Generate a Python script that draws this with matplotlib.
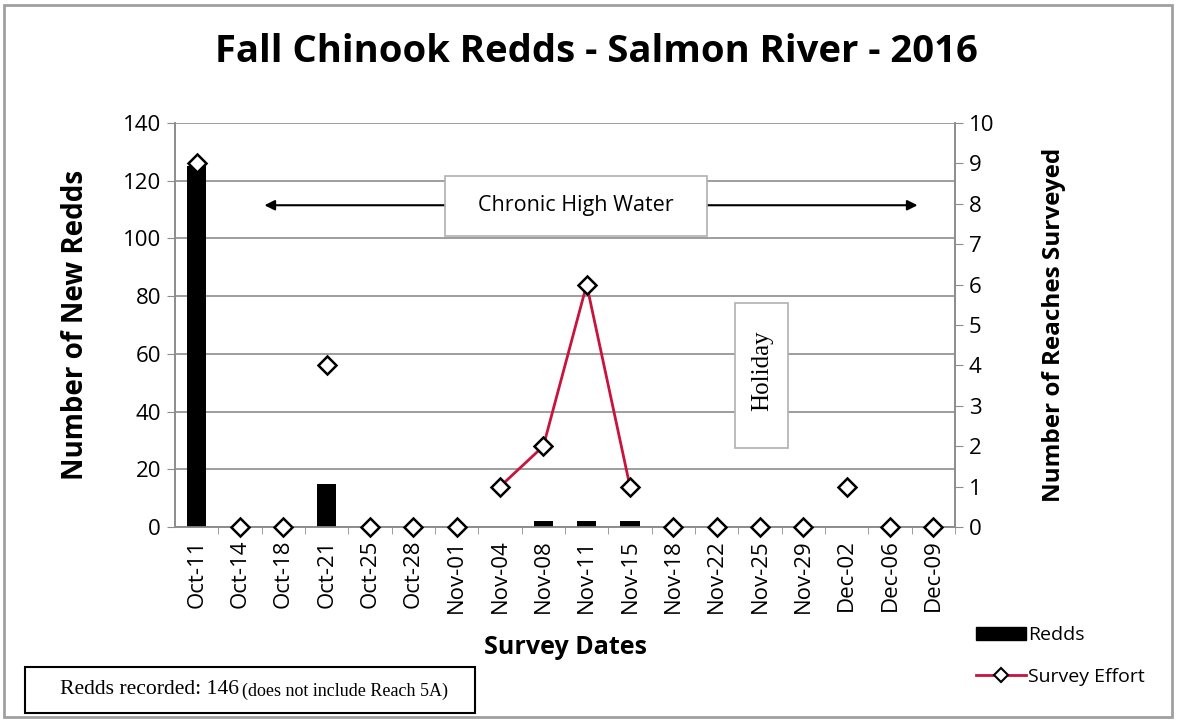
import matplotlib
matplotlib.use("Agg")
import numpy as np
from matplotlib import pyplot as plt
from matplotlib.lines import Line2D
from matplotlib.patches import Rectangle, Patch

dates = ["Oct-11", "Oct-14", "Oct-18", "Oct-21", "Oct-25", "Oct-28", "Nov-01",
         "Nov-04", "Nov-08", "Nov-11", "Nov-15", "Nov-18", "Nov-22", "Nov-25",
         "Nov-29", "Dec-02", "Dec-06", "Dec-09"]
redds = [125, 0, 0, 15, 0, 0, 0, 0, 2, 2, 2, 0, 0, 0, 0, 0, 0, 0]
effort = [9, 0, 0, 4, 0, 0, 0, 1, 2, 6, 1, 0, 0, 0, 0, 1, 0, 0]
# consecutive surveys that are joined by the effort line
joined = ["Nov-04", "Nov-08", "Nov-11", "Nov-15"]

sans = "Open Sans"
serif = "Liberation Serif"
line_red = "#C8143C"
grid_gray = "#8c8c8c"
box_gray = "#b0b0b0"

fig = plt.figure(figsize=(11.77, 7.21), dpi=100)
ax = fig.add_axes([175 / 1177, 1 - 527 / 721, 780 / 1177, 404 / 721])
ax2 = ax.twinx()

x = np.arange(len(dates))
ax.bar(x, redds, width=0.44, color="black", zorder=3)
ax.set_xlim(-0.5, len(dates) - 0.5)
ax.set_ylim(0, 140)
ax.set_yticks(range(0, 141, 20))
ax.yaxis.grid(True, color=grid_gray, lw=1.2)
ax.set_axisbelow(True)

idx = [dates.index(d) for d in joined]
ax2.plot(idx, [effort[i] for i in idx], color=line_red, lw=2, zorder=4)
ax2.plot(x, effort, ls="none", marker="D", ms=9, mfc="white", mec="black",
         mew=1.8, zorder=5, clip_on=False)
ax2.set_ylim(0, 10)
ax2.set_yticks(range(0, 11))
ax2.set_zorder(ax.get_zorder() + 1)

ax.set_xticks(x)
ax.set_xticklabels(dates, rotation=90, fontsize=16, family=sans)
ax.set_xticks(x + 0.5, minor=True)
ax.tick_params(axis="x", which="major", length=0, pad=9)
ax.tick_params(axis="x", which="minor", length=5, color=grid_gray)
ax.tick_params(axis="y", labelsize=16, length=6, color=grid_gray, pad=4)
ax2.tick_params(axis="y", labelsize=16, length=6, color=grid_gray, pad=4)
for lab in ax.get_yticklabels() + ax2.get_yticklabels():
    lab.set_family(sans)

for a in (ax, ax2):
    for side in ("left", "right", "bottom"):
        a.spines[side].set_color(grid_gray)
        a.spines[side].set_linewidth(1.2)
    a.spines["top"].set_visible(False)

ax.set_xlabel("Survey Dates", fontsize=18, fontweight="bold", family=sans,
              labelpad=16)
ax.set_ylabel("Number of New Redds", fontsize=20, fontweight="bold",
              family=sans, labelpad=24)
ax2.set_ylabel("Number of Reaches Surveyed", fontsize=17.5, fontweight="bold",
               family=sans, labelpad=34)

fig.text(596 / 1177, 1 - 52 / 721, "Fall Chinook Redds - Salmon River - 2016",
         ha="center", va="center", fontsize=27.5, fontweight="bold",
         family=sans)

# high water annotation across the season
ax.annotate("", xy=(1.5, 111.5), xytext=(6.2, 111.5),
            arrowprops=dict(arrowstyle="-|>", color="black", lw=1.5,
                            mutation_scale=15))
ax.annotate("", xy=(16.7, 111.5), xytext=(11.2, 111.5),
            arrowprops=dict(arrowstyle="-|>", color="black", lw=1.5,
                            mutation_scale=15))
ax.add_patch(Rectangle((5.72, 101), 6.05, 20.8, fc="white", ec=box_gray,
                       lw=1.2, zorder=6))
ax.text(8.75, 111.5, "Chronic High Water", ha="center", va="center",
        fontsize=15.5, family=sans, zorder=7)

ax.add_patch(Rectangle((12.43, 27.5), 1.22, 50.2, fc="white", ec=box_gray,
                       lw=1.2, zorder=6))
ax.text(13.05, 54, "Holiday", ha="center", va="center", rotation=90,
        fontsize=18, family=serif, zorder=7)

handles = [Patch(fc="black", ec="black"),
           Line2D([], [], color=line_red, lw=2, marker="D", ms=7,
                  mfc="white", mec="black", mew=1.5)]
fig.legend(handles, ["Redds", "Survey Effort"], loc="center left",
           bbox_to_anchor=(958 / 1177, 1 - 656 / 721), frameon=False,
           prop=dict(family=sans, size=14), handlelength=2.6,
           handletextpad=0.1, labelspacing=1.2)

fig.text(60 / 1177, 1 - 690 / 721, "Redds recorded: 146", ha="left",
         va="center", fontsize=15.6, family=serif)
fig.text(242 / 1177, 1 - 691 / 721, "(does not include Reach 5A)", ha="left",
         va="center", fontsize=13, family=serif)
fig.add_artist(Rectangle((25 / 1177, 1 - 713 / 721), 450 / 1177, 46 / 721,
                         transform=fig.transFigure, fill=False, ec="black",
                         lw=1.5))
fig.add_artist(Rectangle((4 / 1177, 4 / 721), 1168 / 1177, 712 / 721,
                         transform=fig.transFigure, fill=False, ec="#a0a0a0",
                         lw=2))

fig.savefig("out.png", dpi=100)
